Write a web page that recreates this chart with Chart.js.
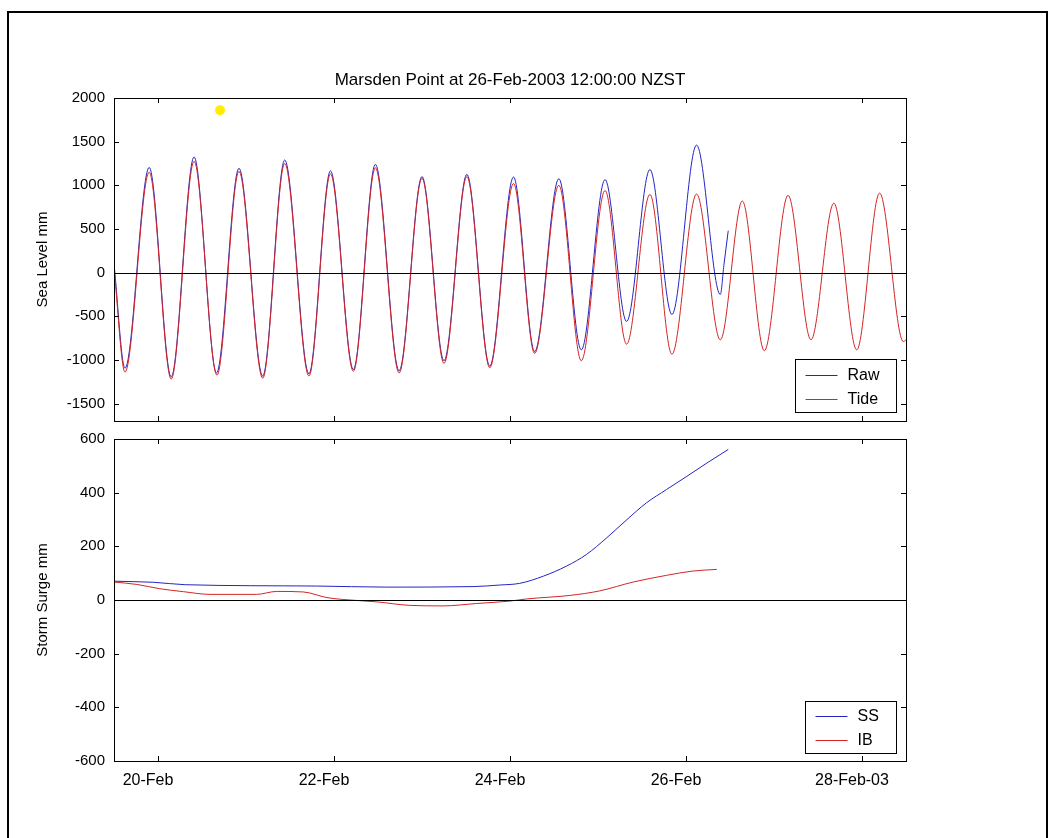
<!DOCTYPE html>
<html>
<head>
<meta charset="utf-8">
<script src="https://cdn.jsdelivr.net/npm/chart.js@4.4.0/dist/chart.umd.min.js"></script>
<style>
  html, body { margin: 0; padding: 0; background: #fff; overflow: hidden; }
  #frame { position: absolute; left: 7px; top: 11px; width: 1041px; height: 900px; border: 2px solid #000; box-sizing: border-box; }
  canvas { position: absolute; left: 0; }
  #chart-top { top: 0; }
  #chart-bottom { top: 430px; }
</style>
</head>
<body>
<div id="frame"></div>
<canvas id="chart-top" width="1055" height="430"></canvas>
<canvas id="chart-bottom" width="1055" height="408"></canvas>
<script>
// thoi gian tinh theo ngay cua thang 2 (19.5 = 19-Feb 12:00)
const titleText = 'Marsden Point at 26-Feb-2003 12:00:00 NZST';

const xTickDays = [20, 22, 24, 26, 28];
const xTickLabels = ['20-Feb', '22-Feb', '24-Feb', '26-Feb', '28-Feb-03'];
const seaTicks = [-1500, -1000, -500, 0, 500, 1000, 1500, 2000];
const surgeTicks = [-600, -400, -200, 0, 200, 400, 600];

// Raw - muc nuoc do duoc
const rawDays = [19.5, 19.625, 19.9, 20.15, 20.41, 20.665, 20.92, 21.19, 21.44, 21.715, 21.96, 22.22, 22.47,
  22.74, 23.0, 23.25, 23.51, 23.77, 24.04, 24.28, 24.555, 24.81, 25.08, 25.325, 25.59, 25.84, 26.12,
  26.39, 26.43, 26.48];
const rawValues = [100, -1095, 1205, -1195, 1325, -1150, 1195, -1185, 1290, -1160, 1165, -1110, 1240,
  -1125, 1100, -1010, 1125, -1070, 1095, -905, 1075, -885, 1065, -560, 1180, -480, 1460,
  -250, 80, 480];

// Tide - thuy trieu du bao
const tideDays = [19.5, 19.625, 19.9, 20.15, 20.41, 20.67, 20.92, 21.19, 21.44, 21.715, 21.96, 22.22, 22.47,
  22.74, 23.0, 23.25, 23.51, 23.77, 24.04, 24.28, 24.555, 24.81, 25.08, 25.325, 25.59, 25.84, 26.12,
  26.39, 26.64, 26.89, 27.16, 27.42, 27.68, 27.94, 28.2, 28.47, 28.5];
const tideValues = [50, -1140, 1150, -1220, 1275, -1175, 1160, -1210, 1250, -1185, 1130, -1130, 1200,
  -1150, 1080, -1040, 1100, -1090, 1020, -925, 1000, -1010, 940, -820, 895, -935, 900,
  -770, 820, -895, 885, -770, 795, -885, 910, -790, -770];

const markerDays = [20.705];
const markerValues = [1860];

// SS - storm surge
const ssDays = [19.5, 19.95, 20.31, 21.8, 22.6, 23.58, 23.89, 24.11, 24.38, 24.64, 24.87, 25.1, 25.33,
  25.55, 25.78, 26.01, 26.24, 26.48];
const ssValues = [70, 66, 57, 52, 48, 50, 56, 62, 89, 126, 170, 232, 300, 362, 412, 461, 511, 561];

// IB - inverted barometer
const ibDays = [19.5, 19.76, 20.02, 20.29, 20.59, 21.12, 21.35, 21.65, 21.92, 22.1, 22.49, 22.86, 23.24,
  23.62, 24.0, 24.19, 24.68, 25.02, 25.4, 25.78, 26.08, 26.35];
const ibValues = [67, 58, 42, 31, 21, 21, 32, 30, 9, 2, -7, -20, -22, -13, -4, 4, 17, 34, 67, 92, 108, 114];

const blue = '#2424c4';
const red = '#d42424';
const fontFamily = '"Liberation Sans", Arial, sans-serif';

function pts(xs, ys) {
  return xs.map((x, i) => ({ x: x, y: ys[i] }));
}

// ve khung, vach chia huong vao trong, duong 0 va chu thich kieu MATLAB
const matlabAxes = {
  id: 'matlabAxes',
  afterDatasetsDraw(chart, args, opts) {
    const { ctx, chartArea: a } = chart;
    const x = chart.scales.x, y = chart.scales.y;
    ctx.save();
    ctx.strokeStyle = '#000';
    ctx.lineWidth = 1;

    // duong 0
    const y0 = Math.round(y.getPixelForValue(0)) + 0.5;
    ctx.beginPath();
    ctx.moveTo(a.left, y0);
    ctx.lineTo(a.right, y0);
    ctx.stroke();

    // khung
    ctx.strokeRect(Math.round(a.left) + 0.5, Math.round(a.top) + 0.5, Math.round(a.width), Math.round(a.height));

    const len = 5;
    ctx.beginPath();
    xTickDays.forEach(v => {
      const px = Math.round(x.getPixelForValue(v)) + 0.5;
      ctx.moveTo(px, a.bottom); ctx.lineTo(px, a.bottom - len);
      ctx.moveTo(px, a.top); ctx.lineTo(px, a.top + len);
    });
    opts.yTicks.forEach(v => {
      const py = Math.round(y.getPixelForValue(v)) + 0.5;
      ctx.moveTo(a.left, py); ctx.lineTo(a.left + len, py);
      ctx.moveTo(a.right, py); ctx.lineTo(a.right - len, py);
    });
    ctx.stroke();

    // chu thich
    const b = opts.box;
    const bx = Math.round(a.right - b.right - b.width) + 0.5;
    const by = Math.round(a.bottom - b.bottom - b.height) + 0.5;
    ctx.fillStyle = '#fff';
    ctx.fillRect(bx, by, b.width, b.height);
    ctx.strokeRect(bx, by, b.width, b.height);
    ctx.font = '16px ' + fontFamily;
    ctx.textBaseline = 'middle';
    opts.items.forEach((it, i) => {
      const ly = Math.round(by + b.firstRow + i * 24) + 0.5;
      ctx.strokeStyle = it.color;
      ctx.beginPath();
      ctx.moveTo(bx + 10, ly);
      ctx.lineTo(bx + 42, ly);
      ctx.stroke();
      ctx.fillStyle = '#000';
      ctx.fillText(it.label, bx + 52, ly);
    });
    ctx.restore();
  }
};

function yScale(min, max, ticks, title) {
  return {
    type: 'linear',
    min: min,
    max: max,
    grid: { display: false, drawTicks: false },
    border: { display: false },
    afterBuildTicks: s => { s.ticks = ticks.map(v => ({ value: v })); },
    afterFit: s => { s.width = 84; s.paddingTop = 0; s.paddingBottom = 0; },
    ticks: {
      color: '#000',
      padding: 9,
      font: { size: 15, family: fontFamily },
      callback: value => String(value)
    },
    title: { display: true, text: title, color: '#000', font: { size: 15, family: fontFamily }, padding: { top: 4, bottom: 4 } }
  };
}

function xScale(showLabels, height) {
  return {
    type: 'linear',
    min: 19.5,
    max: 28.5,
    grid: { display: false, drawTicks: false },
    border: { display: false },
    afterBuildTicks: s => { s.ticks = xTickDays.map(v => ({ value: v })); },
    afterFit: s => { s.height = height; s.paddingLeft = 0; s.paddingRight = 0; },
    ticks: {
      display: showLabels,
      color: '#000',
      padding: 10,
      maxRotation: 0,
      labelOffset: -10,
      font: { size: 16, family: fontFamily },
      callback: function (value) {
        const i = xTickDays.indexOf(value);
        return i >= 0 ? xTickLabels[i] : '';
      }
    }
  };
}

function lineSet(label, xs, ys, color, order) {
  return {
    label: label,
    data: pts(xs, ys),
    borderColor: color,
    backgroundColor: color,
    borderWidth: 1,
    pointRadius: 0,
    cubicInterpolationMode: 'monotone',
    order: order
  };
}

new Chart(document.getElementById('chart-top'), {
  type: 'line',
  data: {
    datasets: [
      lineSet('Raw', rawDays, rawValues, blue, 2),
      lineSet('Tide', tideDays, tideValues, red, 1),
      {
        label: 'marker',
        data: pts(markerDays, markerValues),
        showLine: false,
        pointRadius: 5,
        pointBorderWidth: 0,
        pointBackgroundColor: '#ffee00',
        order: 0
      }
    ]
  },
  options: {
    responsive: false,
    animation: false,
    layout: { padding: { left: 30, right: 149, top: 70, bottom: 0 } },
    scales: {
      x: xScale(false, 9),
      y: yScale(-1700, 2000, seaTicks, 'Sea Level mm')
    },
    plugins: {
      legend: { display: false },
      tooltip: { enabled: false },
      title: {
        display: true,
        text: titleText,
        fullSize: false,
        color: '#000',
        font: { size: 17, weight: 'normal', family: fontFamily },
        padding: { top: 0, bottom: 7.6 }
      },
      matlabAxes: {
        yTicks: seaTicks,
        box: { right: 10, bottom: 9, width: 101, height: 53, firstRow: 15 },
        items: [{ label: 'Raw', color: blue }, { label: 'Tide', color: red }]
      }
    }
  },
  plugins: [matlabAxes]
});

new Chart(document.getElementById('chart-bottom'), {
  type: 'line',
  data: {
    datasets: [
      lineSet('SS', ssDays, ssValues, blue, 2),
      lineSet('IB', ibDays, ibValues, red, 1)
    ]
  },
  options: {
    responsive: false,
    animation: false,
    layout: { padding: { left: 30, right: 149, top: 9, bottom: 0 } },
    scales: {
      x: xScale(true, 77),
      y: yScale(-600, 600, surgeTicks, 'Storm Surge mm')
    },
    plugins: {
      legend: { display: false },
      tooltip: { enabled: false },
      matlabAxes: {
        yTicks: surgeTicks,
        box: { right: 10, bottom: 8, width: 91, height: 52, firstRow: 14 },
        items: [{ label: 'SS', color: blue }, { label: 'IB', color: red }]
      }
    }
  },
  plugins: [matlabAxes]
});
</script>
</body>
</html>
